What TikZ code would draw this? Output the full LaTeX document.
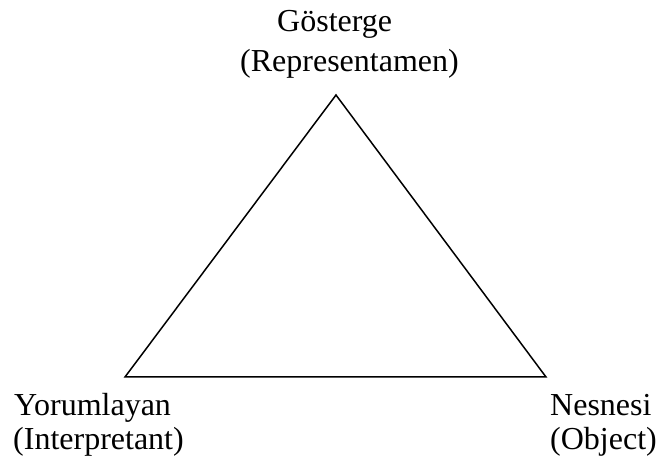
\documentclass[tikz,border=0pt]{standalone}
\usepackage{fontspec}
\setmainfont{Liberation Serif}
\usepackage{tikz}

\begin{document}
\begin{tikzpicture}[x=1pt,y=1pt,font=\fontsize{32}{38}\selectfont]
\useasboundingbox (0,0) rectangle (657,463);
\coordinate (top) at (336,368);
\coordinate (left) at (125,86);
\coordinate (right) at (546,86);

\node[anchor=base west,inner sep=0pt] (gosterge) at (277,431) {Gösterge};
\node[anchor=base west,inner sep=0pt] (represent) at (240,391) {(Representamen)};
\node[anchor=base west,inner sep=0pt] (yorum) at (14,47) {Yorumlayan};
\node[anchor=base west,inner sep=0pt] (interp) at (13,13) {(Interpretant)};
\node[anchor=base west,inner sep=0pt] (nesne) at (550,47) {Nesnesi};
\node[anchor=base west,inner sep=0pt] (object) at (550,13) {(Object)};

\draw[line width=1.5pt] (top) -- (right) -- (left) -- cycle;
\end{tikzpicture}
\end{document}
